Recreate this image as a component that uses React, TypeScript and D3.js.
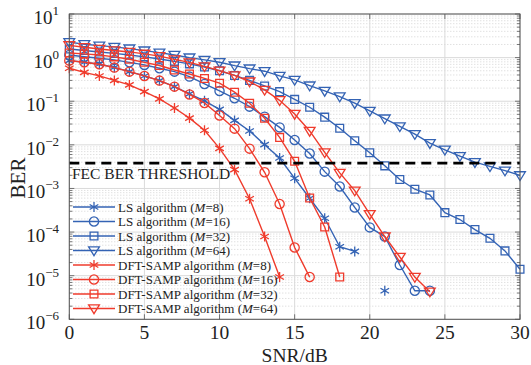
import React from "react";
import * as d3 from "d3";

// SNR points (dB)
const snrDb = [0, 1, 2, 3, 4, 5, 6, 7, 8, 9, 10, 11, 12, 13, 14, 15, 16, 17, 18, 19, 20, 21, 22, 23, 24, 25, 26, 27, 28, 29, 30];

// BER (null = no point drawn)
const lsM8 = [0.853, 0.784, 0.706, 0.596, 0.477, 0.38, 0.297, 0.216, 0.147, 0.102, 0.0649, 0.0363, 0.0208, 0.0101, 0.005, 0.00171, 5.96e-4, 2.07e-4, 4.6e-5, 3.6e-5, null, 4.5e-6];
const lsM16 = [1.15, 1.05, 0.97, 0.886, 0.78, 0.68, 0.57, 0.477, 0.367, 0.249, 0.172, 0.117, 0.0752, 0.0443, 0.0251, 0.0129, 0.00635, 0.00243, 0.00111, 3.67e-4, 1.28e-4, 7.9e-5, 1.76e-5, 4.5e-6, 4.5e-6];
const lsM32 = [1.58, 1.46, 1.35, 1.25, 1.15, 1.04, 0.93, 0.82, 0.72, 0.61, 0.5, 0.39, 0.3, 0.224, 0.166, 0.11, 0.0728, 0.0432, 0.024, 0.0124, 0.00659, 0.0033, 0.0016, 9.6e-4, 7.1e-4, 2.79e-4, 1.94e-4, 1.14e-4, 7.2e-5, 3.7e-5, 1.4e-5];
const lsM64 = [2.26, 2.03, 1.88, 1.76, 1.61, 1.45, 1.3, 1.15, 1.0, 0.886, 0.784, 0.656, 0.56, 0.488, 0.38, 0.308, 0.228, 0.172, 0.128, 0.09, 0.06, 0.04, 0.0265, 0.0176, 0.0109, 0.0077, 0.0055, 0.004, 0.0032, 0.00256, 0.002];
const dftM8 = [0.57, 0.46, 0.38, 0.3, 0.237, 0.166, 0.113, 0.07, 0.041, 0.0216, 0.0083, 0.0027, 5.8e-4, 7.9e-5, 9.3e-6];
const dftM16 = [0.853, 0.784, 0.706, 0.59, 0.477, 0.38, 0.297, 0.216, 0.143, 0.0914, 0.0472, 0.0235, 0.00818, 0.00235, 4.41e-4, 4.43e-5, 9.3e-6];
const dftM32 = [1.28, 1.22, 1.15, 1.04, 0.92, 0.78, 0.66, 0.52, 0.42, 0.333, 0.259, 0.161, 0.09, 0.0408, 0.0148, 0.0042, 6.05e-4, 1.31e-4, 9.3e-6];
const dftM64 = [1.91, 1.73, 1.58, 1.46, 1.35, 1.22, 1.08, 0.91, 0.776, 0.628, 0.503, 0.391, 0.282, 0.182, 0.105, 0.051, 0.0208, 0.0067, 0.00227, 8.9e-4, 2.57e-4, 7.9e-5, 2.68e-5, 9.3e-6, 4.3e-6];

const fecThreshold = 3.8e-3;

const xTicks = [0, 5, 10, 15, 20, 25, 30];
const yExponents = [1, 0, -1, -2, -3, -4, -5, -6];

const BLUE = "#3463b4";
const RED = "#ef3b2c";

type Marker = "star" | "circle" | "square" | "tri";

const series: { name: string; m: string; values: (number | null)[]; color: string; marker: Marker }[] = [
  { name: "LS algorithm", m: "8", values: lsM8, color: BLUE, marker: "star" },
  { name: "LS algorithm", m: "16", values: lsM16, color: BLUE, marker: "circle" },
  { name: "LS algorithm", m: "32", values: lsM32, color: BLUE, marker: "square" },
  { name: "LS algorithm", m: "64", values: lsM64, color: BLUE, marker: "tri" },
  { name: "DFT-SAMP algorithm", m: "8", values: dftM8, color: RED, marker: "star" },
  { name: "DFT-SAMP algorithm", m: "16", values: dftM16, color: RED, marker: "circle" },
  { name: "DFT-SAMP algorithm", m: "32", values: dftM32, color: RED, marker: "square" },
  { name: "DFT-SAMP algorithm", m: "64", values: dftM64, color: RED, marker: "tri" },
];

const W = 531;
const H = 365;
const left = 69.3;
const right = 520;
const top = 14;
const bottom = 319.3;
const FONT = "'Liberation Serif', 'Times New Roman', serif";

function markerPath(type: Marker): string {
  if (type === "circle") return "M4.6,0A4.6,4.6,0,1,1,-4.6,0A4.6,4.6,0,1,1,4.6,0Z";
  if (type === "square") return "M-3.9,-3.9H3.9V3.9H-3.9Z";
  if (type === "tri") return "M-5.4,-3.6H5.4L0,5.2Z";
  // asterisk: vertical spoke + two at +-30deg
  const r = 5;
  const c = r * Math.cos(Math.PI / 6);
  const s = r * Math.sin(Math.PI / 6);
  return `M0,${-r}V${r}M${-c},${-s}L${c},${s}M${-c},${s}L${c},${-s}`;
}

export default function App() {
  const x = d3.scaleLinear().domain([0, 30]).range([left, right]);
  const y = d3.scaleLog().domain([1e-6, 10]).range([bottom, top]);

  const line = d3
    .line<{ s: number; v: number | null }>()
    .defined((d) => d.v != null)
    .x((d) => x(d.s))
    .y((d) => y(d.v as number));

  const minors: number[] = [];
  for (let e = -6; e < 1; e++) {
    for (let k = 2; k <= 9; k++) minors.push(k * Math.pow(10, e));
  }
  const majors = yExponents.map((e) => Math.pow(10, e));

  const legendY0 = 207;
  const legendStep = 14.5;

  return (
    <svg
      width={W}
      height={H}
      viewBox={`0 0 ${W} ${H}`}
      style={{ position: "absolute", left: 0, top: 0, background: "#fff" }}
      fontFamily={FONT}
    >
      <rect x={0} y={0} width={W} height={H} fill="#fff" />

      {/* minor grid (horizontal only) */}
      {minors.map((v, i) => (
        <line key={"mg" + i} x1={left} x2={right} y1={y(v)} y2={y(v)} stroke="#c9c9c9" strokeWidth={0.8} strokeDasharray="1,2" />
      ))}
      {/* major grid */}
      {majors.map((v, i) => (
        <line key={"Mg" + i} x1={left} x2={right} y1={y(v)} y2={y(v)} stroke="#dadada" strokeWidth={1} />
      ))}
      {xTicks.map((t) => (
        <line key={"xg" + t} x1={x(t)} x2={x(t)} y1={top} y2={bottom} stroke="#dadada" strokeWidth={1} />
      ))}

      {/* ticks */}
      {minors.map((v, i) => (
        <g key={"mt" + i} stroke="#555" strokeWidth={0.8}>
          <line x1={left} x2={left + 3} y1={y(v)} y2={y(v)} />
          <line x1={right} x2={right - 3} y1={y(v)} y2={y(v)} />
        </g>
      ))}
      {majors.map((v, i) => (
        <g key={"Mt" + i} stroke="#555" strokeWidth={0.8}>
          <line x1={left} x2={left + 5} y1={y(v)} y2={y(v)} />
          <line x1={right} x2={right - 5} y1={y(v)} y2={y(v)} />
        </g>
      ))}
      {xTicks.map((t) => (
        <g key={"xt" + t} stroke="#555" strokeWidth={0.8}>
          <line x1={x(t)} x2={x(t)} y1={bottom} y2={bottom - 5} />
          <line x1={x(t)} x2={x(t)} y1={top} y2={top + 5} />
        </g>
      ))}

      {/* curves */}
      {series.map((s, i) => {
        const pts = s.values.map((v, j) => ({ s: snrDb[j], v }));
        return (
          <g key={"s" + i}>
            <path d={line(pts) || ""} fill="none" stroke={s.color} strokeWidth={1.4} />
            {pts
              .filter((p) => p.v != null)
              .map((p, j) => (
                <path
                  key={j}
                  d={markerPath(s.marker)}
                  transform={`translate(${x(p.s)},${y(p.v as number)})`}
                  fill="none"
                  stroke={s.color}
                  strokeWidth={1.3}
                />
              ))}
          </g>
        );
      })}

      {/* FEC threshold */}
      <line x1={left} x2={right} y1={y(fecThreshold)} y2={y(fecThreshold)} stroke="#000" strokeWidth={2.6} strokeDasharray="10,6" />
      <text x={72} y={179} fontSize={15.5} fill="#222">
        FEC BER THRESHOLD
      </text>

      {/* frame */}
      <rect x={left} y={top} width={right - left} height={bottom - top} fill="none" stroke="#555" strokeWidth={1} />

      {/* y tick labels */}
      {yExponents.map((e) => (
        <text key={"yl" + e} x={59} y={y(Math.pow(10, e)) + 10} textAnchor="end" fill="#222" fontSize={19}>
          10
          <tspan dy={-9} fontSize={13}>
            {e < 0 ? "\u2212" + Math.abs(e) : String(e)}
          </tspan>
        </text>
      ))}
      {/* x tick labels */}
      {xTicks.map((t) => (
        <text key={"xl" + t} x={x(t)} y={339} textAnchor="middle" fill="#222" fontSize={19.5}>
          {t}
        </text>
      ))}

      <text x={(left + right) / 2} y={362} textAnchor="middle" fill="#222" fontSize={19.5}>
        SNR/dB
      </text>
      <text transform={`translate(25,178) rotate(-90)`} textAnchor="middle" fill="#222" fontSize={21}>
        BER
      </text>

      {/* legend */}
      {series.map((s, i) => {
        const ly = legendY0 + i * legendStep;
        return (
          <g key={"lg" + i}>
            <line x1={73} x2={115} y1={ly} y2={ly} stroke={s.color} strokeWidth={1.4} />
            <path d={markerPath(s.marker)} transform={`translate(94,${ly})`} fill="none" stroke={s.color} strokeWidth={1.3} />
            <text x={118} y={ly + 4.5} fontSize={13} fill="#222">
              {s.name} (<tspan fontStyle="italic">M</tspan>={s.m})
            </text>
          </g>
        );
      })}
    </svg>
  );
}
